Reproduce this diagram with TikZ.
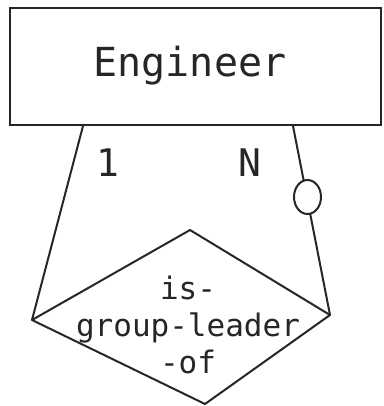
\documentclass[tikz,border=0pt]{standalone}
\usepackage{fontspec}
\setmonofont{DejaVu Sans Mono}
\usetikzlibrary{calc,shapes.geometric}
\begin{document}
\begin{tikzpicture}[x=1pt,y=-1pt,
  ln/.style={line width=2pt,draw=black!85},
  big/.style={font=\ttfamily\fontsize{40}{44}\selectfont,text=black!85,inner sep=0pt},
  mid/.style={font=\ttfamily\fontsize{31}{37}\selectfont,text=black!85,inner sep=0pt,align=center},
  lbl/.style={font=\ttfamily\fontsize{38}{40}\selectfont,text=black!85,inner sep=0pt}]
\useasboundingbox (0,0) rectangle (383,406);
\node[ln,draw,rectangle,minimum width=371pt,minimum height=117pt,inner sep=0pt] (eng) at (195.5,66.5) {};
\node[big] (engt) at (190,66) {Engineer};
% diamond corners
\coordinate (dt) at (190,230);
\coordinate (dl) at (32,320);
\coordinate (dr) at (330,315);
\coordinate (db) at (205,404);
\draw[ln,line join=round] (dt) -- (dr) -- (db) -- (dl) -- cycle;
\node[mid] (rel) at (188,325) {is-\\group-leader\\-of};
% connectors
\coordinate (el) at ($(eng.south west)+(74,0)$);
\coordinate (er) at ($(eng.south west)+(284,0)$);
\draw[ln] (el) -- (dl);
\draw[ln] (er) -- (dr);
\node[ln,draw,ellipse,fill=white,minimum width=27pt,minimum height=34pt,inner sep=0pt] (opt) at (307.5,197) {};
\node[lbl] (one) at (108,163) {1};
\node[lbl] (n) at (250,163) {N};
\end{tikzpicture}
\end{document}
